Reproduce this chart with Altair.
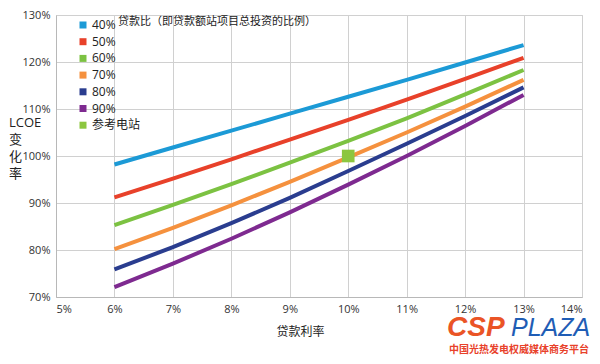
import altair as alt
import pandas as pd

# ---- data ----
rates = [6, 7, 8, 9, 10, 11, 12, 13]
series_names = ["40%", "50%", "60%", "70%", "80%", "90%"]
lcoe_40 = [98.2, 101.8, 105.4, 109.0, 112.6, 116.2, 119.9, 123.6]
lcoe_50 = [91.2, 95.2, 99.3, 103.5, 107.7, 112.0, 116.4, 120.9]
lcoe_60 = [85.3, 89.6, 94.0, 98.6, 103.2, 108.0, 113.1, 118.3]
lcoe_70 = [80.2, 84.7, 89.5, 94.5, 99.7, 105.0, 110.5, 116.2]
lcoe_80 = [75.9, 80.6, 85.7, 91.1, 96.8, 102.6, 108.5, 114.6]
lcoe_90 = [72.1, 77.1, 82.4, 88.0, 93.9, 100.0, 106.4, 113.0]
ref_name = "参考电站"
ref_rate = [10]
ref_lcoe = [100]
colors = ["#1c9ad6", "#e8412a", "#7cc242", "#f5913e", "#2a3d8f", "#7e2a90", "#8cc63f"]
x_ticks = [5, 6, 7, 8, 9, 10, 11, 12, 13, 14]
y_ticks = [70, 80, 90, 100, 110, 120, 130]
legend_title = "贷款比（即贷款额站项目总投资的比例）"
x_title = "贷款利率"
y_title = ["LCOE", "变", "化", "率"]
logo_a = "CSP"
logo_b = "PLAZA"
logo_sub = "中国光热发电权威媒体商务平台"

rows = []
for name, vals in zip(series_names, [lcoe_40, lcoe_50, lcoe_60, lcoe_70, lcoe_80, lcoe_90]):
    for r, v in zip(rates, vals):
        rows.append({"series": name, "rate": r, "lcoe": v})
df = pd.DataFrame(rows)
ref_df = pd.DataFrame({"series": [ref_name], "rate": ref_rate, "lcoe": ref_lcoe})

domain = series_names + [ref_name]
FONT = "Open Sans, Noto Sans CJK SC, sans-serif"
CJK = "Noto Sans CJK SC, sans-serif"

x_enc = alt.X(
    "rate:Q",
    scale=alt.Scale(domain=[5, 14], nice=False, zero=False),
    axis=alt.Axis(
        values=x_ticks, labelExpr="datum.value + '%'", title=x_title,
        titleX=244, titleY=34, titleAlign="center", titleBaseline="middle",
        titleFont=CJK, titleFontSize=12, titleFontWeight="normal", titleColor="#222",
    ),
)
y_enc = alt.Y(
    "lcoe:Q",
    scale=alt.Scale(domain=[70, 130], nice=False, zero=False),
    axis=alt.Axis(values=y_ticks, labelExpr="datum.value + '%'", title=None),
)

color_scale = alt.Scale(domain=domain, range=colors)

lines = alt.Chart(df).mark_line(strokeWidth=4).encode(
    x=x_enc, y=y_enc,
    color=alt.Color("series:N", scale=color_scale, legend=None),
)

ref = alt.Chart(ref_df).mark_point(shape="square", filled=True, size=160, opacity=1).encode(
    x=x_enc, y=y_enc,
    color=alt.Color(
        "series:N", scale=color_scale,
        legend=alt.Legend(
            title=None, orient="none", legendX=18, legendY=1, symbolType="square",
            symbolSize=49, labelFontSize=12, labelFont=FONT, labelColor="#222",
            rowPadding=4.7, labelOffset=3, padding=3,
        ),
    ),
)

ytitle_txt = alt.Chart(pd.DataFrame({"t": ["y"]})).mark_text(
    text=y_title, lineHeight=17, align="left", baseline="top",
    font=FONT, fontSize=13, color="#222"
).encode(x=alt.value(-47), y=alt.value(102))

title_txt = alt.Chart(pd.DataFrame({"t": [legend_title]})).mark_text(
    align="left", baseline="middle", font=CJK, fontSize=11, color="#222"
).encode(x=alt.value(62), y=alt.value(7), text="t:N")

logo1 = alt.Chart(pd.DataFrame({"t": [logo_a]})).mark_text(
    align="left", baseline="middle", font="Liberation Sans", fontSize=28,
    fontWeight="bold", fontStyle="italic", color="#ea5426"
).encode(x=alt.value(391), y=alt.value(313), text="t:N")

logo2 = alt.Chart(pd.DataFrame({"t": [logo_b]})).mark_text(
    align="left", baseline="middle", font="Liberation Sans", fontSize=25,
    fontStyle="italic", color="#1f5db5"
).encode(x=alt.value(455), y=alt.value(313), text="t:N")

logo3 = alt.Chart(pd.DataFrame({"t": [logo_sub]})).mark_text(
    align="left", baseline="middle", font=CJK, fontSize=10,
    fontWeight="bold", color="#e8412a"
).encode(x=alt.value(393), y=alt.value(335), text="t:N")

chart = alt.layer(lines, ref, ytitle_txt, title_txt, logo1, logo2, logo3).resolve_scale(
    color="independent"
).properties(
    width=526, height=282,
    autosize=alt.AutoSizeParams(type="none"),
    padding={"left": 48, "top": 7, "right": 10, "bottom": 59},
    background="white",
).configure_axis(
    grid=True, gridColor="#d0d0d0", gridWidth=1, domainColor="#b8b8b8",
    ticks=False, labelFont=FONT, labelFontSize=11, labelColor="#333", labelPadding=6,
).configure_legend(
    orient="none", legendX=18, legendY=1,
).configure_view(stroke="#d0d0d0")

chart.save("out.html", embed_options={"renderer": "svg", "actions": False})
